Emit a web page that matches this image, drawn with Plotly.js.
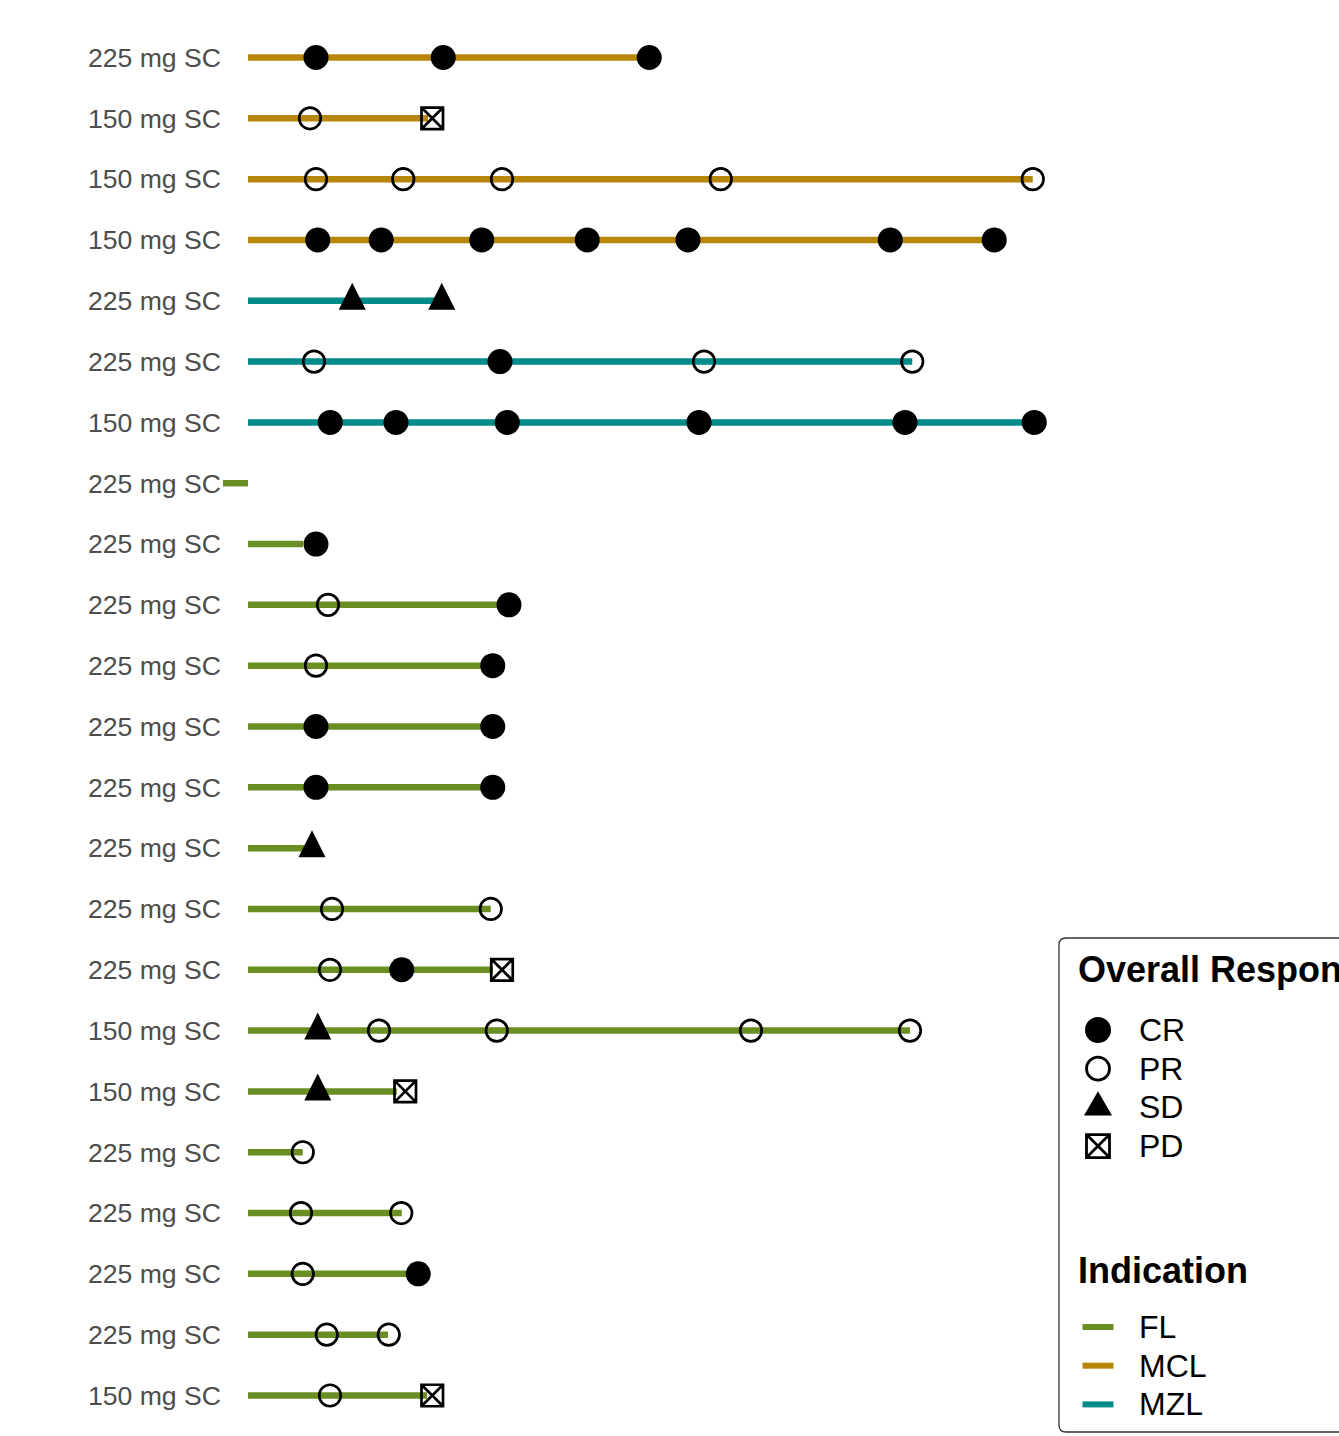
<!DOCTYPE html>
<html>
<head>
<meta charset="utf-8">
<script src="https://cdn.plot.ly/plotly-3.0.1.min.js"></script>
<style>
  html, body { margin: 0; padding: 0; background: #ffffff; }
  #chart { width: 1339px; height: 1436px; }
</style>
</head>
<body>
<div id="chart"></div>
<script>
// Swimmer plot: one lane per subject, listed top to bottom.
// Time on treatment is in months from first dose.

const doseLabels = [
  "225 mg SC", "150 mg SC", "150 mg SC", "150 mg SC", "225 mg SC",
  "225 mg SC", "150 mg SC", "225 mg SC", "225 mg SC", "225 mg SC",
  "225 mg SC", "225 mg SC", "225 mg SC", "225 mg SC", "225 mg SC",
  "225 mg SC", "150 mg SC", "150 mg SC", "225 mg SC", "225 mg SC",
  "225 mg SC", "225 mg SC", "150 mg SC"
];

const indications = [
  "MCL", "MCL", "MCL", "MCL", "MZL",
  "MZL", "MZL", "FL", "FL", "FL",
  "FL", "FL", "FL", "FL", "FL",
  "FL", "FL", "FL", "FL", "FL",
  "FL", "FL", "FL"
];

const durations = [
  16.05, 7.2, 31.39, 29.7, 7.56,
  26.57, 31.45, -1.0, 2.2, 10.28,
  9.7, 9.7, 9.7, 2.28, 9.71,
  9.8, 26.48, 5.95, 2.19, 6.15,
  6.7, 5.6, 7.16
];

// Response assessments per subject (time, overall response)
const assessTimes = [
  [2.72, 7.81, 16.05],
  [2.48, 7.37],
  [2.72, 6.21, 10.16, 18.91, 31.39],
  [2.79, 5.33, 9.35, 13.57, 17.6, 25.69, 29.85],
  [4.17, 7.75],
  [2.64, 10.08, 18.24, 26.57],
  [3.29, 5.92, 10.37, 18.04, 26.28, 31.45],
  [],
  [2.72],
  [3.2, 10.44],
  [2.72, 9.79],
  [2.72, 9.79],
  [2.72, 9.79],
  [2.56],
  [3.36, 9.71],
  [3.28, 6.15, 10.16],
  [2.79, 5.24, 9.95, 20.12, 26.48],
  [2.79, 6.29],
  [2.19],
  [2.12, 6.13],
  [2.19, 6.81],
  [3.15, 5.63],
  [3.28, 7.37]
];

const assessResponses = [
  ["CR", "CR", "CR"],
  ["PR", "PD"],
  ["PR", "PR", "PR", "PR", "PR"],
  ["CR", "CR", "CR", "CR", "CR", "CR", "CR"],
  ["SD", "SD"],
  ["PR", "CR", "PR", "PR"],
  ["CR", "CR", "CR", "CR", "CR", "CR"],
  [],
  ["CR"],
  ["PR", "CR"],
  ["PR", "CR"],
  ["CR", "CR"],
  ["CR", "CR"],
  ["SD"],
  ["PR", "PR"],
  ["PR", "CR", "PD"],
  ["SD", "PR", "PR", "PR", "PR"],
  ["SD", "PD"],
  ["PR"],
  ["PR", "PR"],
  ["PR", "CR"],
  ["PR", "PR"],
  ["PR", "PD"]
];

const responseLevels = ["CR", "PR", "SD", "PD"];
const indicationLevels = ["FL", "MCL", "MZL"];

// ---- styling ----
const indicationColors = { FL: "#6B8E23", MCL: "#B8860B", MZL: "#008B8B" };
const SD_SIZE = 27;
const responseMarkers = {
  CR: { symbol: "circle", size: 25, color: "#000000", line: { width: 0, color: "#000000" } },
  PR: { symbol: "circle-open", size: 21.5, color: "#000000", line: { width: 2.7, color: "#000000" } },
  // flipped arrow head, pushed back so its centroid sits on the assessment
  SD: { symbol: "arrow-down", size: SD_SIZE, angle: 180, standoff: SD_SIZE * 2 / 3,
        color: "#000000", line: { width: 0, color: "#000000" } },
  PD: { symbol: "square-x-open", size: 21.5, color: "#000000", line: { width: 2.7, color: "#000000" } }
};

const FIG_W = 1339, FIG_H = 1436;
const margin = { l: 222, r: 0, t: 21, b: 4 };
const paperW = FIG_W - margin.l - margin.r;
const paperH = FIG_H - margin.t - margin.b;
const panelRight = 1050;                 // right edge of the lanes panel (px)
const pxPerMonth = 25;

// pixel -> paper fraction helpers, used for the key box on the right
const px = v => (v - margin.l) / paperW;
const py = v => 1 - (v - margin.t) / paperH;

const rows = doseLabels.map((_, i) => i);

// ---- lane traces, one per indication ----
const traces = [];
indicationLevels.forEach(ind => {
  const xs = [], ys = [];
  rows.forEach(i => {
    if (indications[i] !== ind) return;
    xs.push(0, durations[i], null);
    ys.push(i, i, null);
  });
  traces.push({
    type: "scatter", mode: "lines", name: ind, x: xs, y: ys,
    line: { color: indicationColors[ind], width: 6.5 },
    hoverinfo: "skip", showlegend: false, cliponaxis: false
  });
});

// ---- response markers, one trace per response category ----
responseLevels.forEach(resp => {
  const xs = [], ys = [];
  rows.forEach(i => {
    assessTimes[i].forEach((t, k) => {
      if (assessResponses[i][k] === resp) { xs.push(t); ys.push(i); }
    });
  });
  traces.push({
    type: "scatter", mode: "markers", name: resp, x: xs, y: ys,
    marker: responseMarkers[resp], showlegend: false, cliponaxis: false
  });
});

// ---- key on the right: box, titles, symbols, labels ----
const keyLeft = 1059, keyTop = 938, keyBottom = 1432, keyRight = 1360;
const keySymX = keyLeft + 39;
const keyTextX = keyLeft + 78;
const respTitleY = keyTop + 31;
const respItemY0 = keyTop + 92, itemStep = 38.7;
const indTitleY = keyTop + 332;
const indItemY0 = keyTop + 389;

const shapes = [];
const annotations = [];

// rounded box
(function () {
  const r = 7;
  const x0 = keyLeft, x1 = keyRight, y0 = keyTop, y1 = keyBottom;
  const P = (x, y) => px(x) + "," + py(y);
  shapes.push({
    type: "path", xref: "paper", yref: "paper",
    path: "M" + P(x0 + r, y0) + " L" + P(x1 - r, y0) + " Q" + P(x1, y0) + " " + P(x1, y0 + r) +
          " L" + P(x1, y1 - r) + " Q" + P(x1, y1) + " " + P(x1 - r, y1) +
          " L" + P(x0 + r, y1) + " Q" + P(x0, y1) + " " + P(x0, y1 - r) +
          " L" + P(x0, y0 + r) + " Q" + P(x0, y0) + " " + P(x0 + r, y0) + " Z",
    line: { color: "#333333", width: 1.3 }, fillcolor: "rgba(255,255,255,0)", layer: "below"
  });
})();

function keyTitle(text, y) {
  annotations.push({
    xref: "paper", yref: "paper", x: px(keyLeft + 17), y: py(y),
    xanchor: "left", yanchor: "middle", showarrow: false,
    text: "<b>" + text + "</b>",
    font: { family: "Liberation Sans, Arial, sans-serif", size: 36, color: "#000000" }
  });
}
function keyLabel(text, y) {
  annotations.push({
    xref: "paper", yref: "paper", x: px(keyTextX), y: py(y),
    xanchor: "left", yanchor: "middle", showarrow: false, text: text,
    font: { family: "Liberation Sans, Arial, sans-serif", size: 32, color: "#000000" }
  });
}

keyTitle("Overall Response", respTitleY);
responseLevels.forEach((resp, k) => {
  const cy = respItemY0 + k * itemStep;
  const cx = keySymX;
  if (resp === "CR") {
    shapes.push({ type: "circle", xref: "paper", yref: "paper",
      x0: px(cx - 13), x1: px(cx + 13), y0: py(cy + 13), y1: py(cy - 13),
      fillcolor: "#000000", line: { width: 0 } });
  } else if (resp === "PR") {
    shapes.push({ type: "circle", xref: "paper", yref: "paper",
      x0: px(cx - 11.5), x1: px(cx + 11.5), y0: py(cy + 11.5), y1: py(cy - 11.5),
      fillcolor: "rgba(0,0,0,0)", line: { width: 2.8, color: "#000000" } });
  } else if (resp === "SD") {
    const hw = 14, h = 24.2;
    shapes.push({ type: "path", xref: "paper", yref: "paper",
      path: "M" + px(cx) + "," + py(cy - h * 2 / 3) +
            " L" + px(cx + hw) + "," + py(cy + h / 3) +
            " L" + px(cx - hw) + "," + py(cy + h / 3) + " Z",
      fillcolor: "#000000", line: { width: 0 } });
  } else {
    const s = 11.5;
    const a = px(cx - s), b = px(cx + s), t = py(cy - s), u = py(cy + s);
    shapes.push({ type: "path", xref: "paper", yref: "paper",
      path: "M" + a + "," + t + " L" + b + "," + t + " L" + b + "," + u + " L" + a + "," + u + " Z" +
            " M" + a + "," + t + " L" + b + "," + u + " M" + b + "," + t + " L" + a + "," + u,
      fillcolor: "rgba(0,0,0,0)", line: { width: 2.8, color: "#000000" } });
  }
  keyLabel(resp, cy);
});

keyTitle("Indication", indTitleY);
indicationLevels.forEach((ind, k) => {
  const cy = indItemY0 + k * itemStep;
  shapes.push({ type: "line", xref: "paper", yref: "paper",
    x0: px(keySymX - 15.5), x1: px(keySymX + 15.5), y0: py(cy), y1: py(cy),
    line: { color: indicationColors[ind], width: 6 } });
  keyLabel(ind, cy);
});

const layout = {
  width: FIG_W, height: FIG_H,
  margin: { l: margin.l, r: margin.r, t: margin.t, b: margin.b, pad: 0, autoexpand: false },
  paper_bgcolor: "#ffffff", plot_bgcolor: "#ffffff",
  font: { family: "Liberation Sans, Arial, sans-serif", color: "#000000" },
  showlegend: false,
  xaxis: {
    domain: [0, (panelRight - margin.l) / paperW],
    range: [-(26 / pxPerMonth), (panelRight - 248) / pxPerMonth],
    visible: false, fixedrange: true
  },
  yaxis: {
    range: [doseLabels.length - 0.4, -0.6],
    tickvals: rows, ticktext: doseLabels,
    tickfont: { family: "Liberation Sans, Arial, sans-serif", size: 26.6, color: "#4D4D4D" },
    ticks: "", showgrid: false, zeroline: false, showline: false,
    automargin: false, fixedrange: true
  },
  shapes: shapes,
  annotations: annotations,
  hovermode: false
};

Plotly.newPlot("chart", traces, layout, { staticPlot: true, displayModeBar: false });
</script>
</body>
</html>
